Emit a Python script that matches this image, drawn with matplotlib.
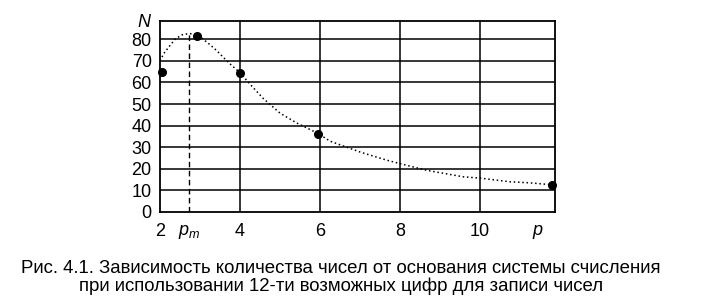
import matplotlib
matplotlib.use('Agg')
import matplotlib.pyplot as plt
from matplotlib import font_manager

# measured points (base p, amount of numbers N)
p_points = [2.05, 2.92, 4, 5.96, 11.8]
n_points = [65, 81.5, 64.5, 36.3, 12.6]

# dotted curve
p_curve = [2.0, 2.1, 2.21, 2.375, 2.54, 2.71, 2.85, 3.0, 3.08, 3.25, 3.42, 3.58, 3.75, 4.0,
           4.3, 4.58, 5.0, 5.42, 5.96, 6.25, 6.67, 7.0, 7.33, 7.67, 8.0, 8.67, 9.58,
           10.0, 10.75, 11.25, 11.8]
n_curve = [70.0, 73.5, 76.2, 80.0, 82.0, 82.6, 82.5, 81.3, 80.0, 77.5, 74.7, 71.7, 68.6, 64.5,
           58.2, 52.6, 45.8, 41.2, 36.3, 32.8, 30.0, 27.8, 25.9, 24.0, 22.4, 19.3, 16.3,
           15.7, 14.0, 13.5, 12.6]

p_m = 2.72
n_peak = 82.6

x_ticks = [2, p_m, 4, 6, 8, 10, 11.45]
x_labels = ['2', '$p_m$', '4', '6', '8', '10', '$p$']
y_ticks = [0, 10, 20, 30, 40, 50, 60, 70, 80, 88.6]
y_labels = ['0', '10', '20', '30', '40', '50', '60', '70', '80', '$N$']
x_grid = [4, 6, 8, 10]
y_grid = [10, 20, 30, 40, 50, 60, 70, 80]

caption = ('Рис. 4.1. Зависимость количества чисел от основания системы счисления\n'
           'при использовании 12-ти возможных цифр для записи чисел')

plt.rcParams['font.family'] = ['Liberation Sans', 'DejaVu Sans']
plt.rcParams['mathtext.fontset'] = 'custom'
plt.rcParams['mathtext.rm'] = 'Liberation Sans'
plt.rcParams['mathtext.it'] = 'Liberation Sans:italic'

names = {f.name for f in font_manager.fontManager.ttflist}
cap_family = 'Liberation Sans Narrow' if 'Liberation Sans Narrow' in names else 'Liberation Sans'

fig = plt.figure(figsize=(7.02, 3.08), dpi=100)
ax = fig.add_axes([160 / 702, 1 - 212 / 308, 395 / 702, 191.3 / 308])
ax.set_xlim(2, 11.875)
ax.set_ylim(0, 88.6)

ax.vlines(x_grid, 0, 88.6, colors='black', linewidth=1.1)
ax.hlines(y_grid, 2, 11.875, colors='black', linewidth=1.1)

ax.plot([p_m, p_m], [0, n_peak], color='black', linewidth=1.0, dashes=(4, 2.5))
ax.plot(p_curve, n_curve, color='black', linewidth=1.1, dashes=(1, 1.8))
ax.plot(p_points, n_points, 'o', color='black', markersize=5.5, clip_on=False, zorder=5)

ax.set_xticks(x_ticks, x_labels)
ax.set_yticks(y_ticks, y_labels)
ax.tick_params(length=0, labelsize=13)
ax.tick_params(axis='x', pad=8)
ax.tick_params(axis='y', pad=6)
for s in ax.spines.values():
    s.set_linewidth(1.3)

fig.text(0.486, 0.099, caption, ha='center', va='center', fontsize=13.4,
         family=[cap_family, 'DejaVu Sans'], linespacing=1.08)

fig.savefig('out.png', dpi=100)
